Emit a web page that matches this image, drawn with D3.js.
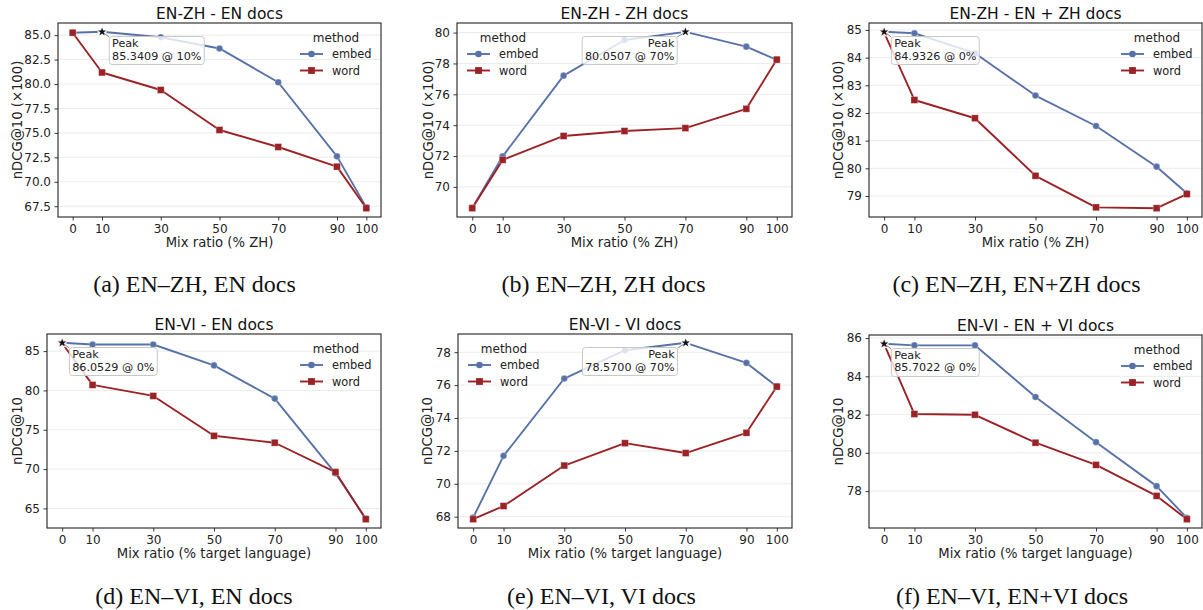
<!DOCTYPE html>
<html><head><meta charset="utf-8">
<script src="https://cdn.jsdelivr.net/npm/d3@7"></script>
<style>body{margin:0;background:#fff}svg{display:block}</style>
</head><body>
<svg id="chart" width="1203" height="610"></svg>
<script>
// ---------------- DATA ----------------
const mixRatios = [0, 10, 30, 50, 70, 90, 100];
const xTickValues = [0, 10, 30, 50, 70, 90, 100];
const methods = ["embed", "word"];

const panelTitles = ["EN-ZH - EN docs", "EN-ZH - ZH docs", "EN-ZH - EN + ZH docs",
                     "EN-VI - EN docs", "EN-VI - VI docs", "EN-VI - EN + VI docs"];
const panelCaptions = ["(a) EN\u2013ZH, EN docs", "(b) EN\u2013ZH, ZH docs", "(c) EN\u2013ZH, EN+ZH docs",
                       "(d) EN\u2013VI, EN docs", "(e) EN\u2013VI, VI docs", "(f) EN\u2013VI, EN+VI docs"];
const yAxisLabels = ["nDCG@10 (\u00d7100)", "nDCG@10 (\u00d7100)", "nDCG@10 (\u00d7100)",
                     "nDCG@10", "nDCG@10", "nDCG@10"];
const xAxisLabels = ["Mix ratio (% ZH)", "Mix ratio (% ZH)", "Mix ratio (% ZH)",
                     "Mix ratio (% target language)", "Mix ratio (% target language)", "Mix ratio (% target language)"];

const enZhEnEmbed   = [85.25, 85.3409, 84.78, 83.64, 80.18, 72.60, 67.38];
const enZhEnWord    = [85.25, 81.18, 79.39, 75.30, 73.56, 71.55, 67.30];
const enZhZhEmbed   = [68.64, 71.98, 77.21, 79.52, 80.0507, 79.09, 78.23];
const enZhZhWord    = [68.62, 71.75, 73.30, 73.62, 73.81, 75.06, 78.25];
const enZhBothEmbed = [84.9326, 84.88, 84.16, 82.63, 81.53, 80.06, 79.10];
const enZhBothWord  = [84.90, 82.47, 81.81, 79.73, 78.59, 78.56, 79.07];
const enViEnEmbed   = [86.0529, 85.84, 85.84, 83.18, 78.96, 69.46, 63.70];
const enViEnWord    = [86.00, 80.70, 79.30, 74.23, 73.35, 69.62, 63.63];
const enViViEmbed   = [67.95, 71.70, 76.40, 78.12, 78.5700, 77.35, 75.91];
const enViViWord    = [67.85, 68.65, 71.11, 72.47, 71.87, 73.10, 75.91];
const enViBothEmbed = [85.7022, 85.62, 85.62, 82.92, 80.56, 78.26, 76.60];
const enViBothWord  = [85.68, 82.03, 81.99, 80.53, 79.37, 77.75, 76.53];

const yTicksA = [67.5, 70, 72.5, 75, 77.5, 80, 82.5, 85];
const yTicksB = [70, 72, 74, 76, 78, 80];
const yTicksC = [79, 80, 81, 82, 83, 84, 85];
const yTicksD = [65, 70, 75, 80, 85];
const yTicksE = [68, 70, 72, 74, 76, 78];
const yTicksF = [78, 80, 82, 84, 86];

const panelSeries = [
  [enZhEnEmbed, enZhEnWord], [enZhZhEmbed, enZhZhWord], [enZhBothEmbed, enZhBothWord],
  [enViEnEmbed, enViEnWord], [enViViEmbed, enViViWord], [enViBothEmbed, enViBothWord]
];
const panelYTicks = [yTicksA, yTicksB, yTicksC, yTicksD, yTicksE, yTicksF];
const panelYFormat = [".1f", "d", "d", "d", "d", "d"];

// ---------------- LAYOUT / STYLE ----------------
const layout = [
  {x0: 58,  x1: 381,  y0: 23,  y1: 217, ylx: 22,  legend: "right", capX: 194.5,  capY: 292},
  {x0: 457, x1: 792,  y0: 23,  y1: 217, ylx: 433, legend: "left",  capX: 603.5,  capY: 292},
  {x0: 869, x1: 1202, y0: 23,  y1: 217, ylx: 843, legend: "right", capX: 1016.5, capY: 292},
  {x0: 47,  x1: 381,  y0: 334, y1: 528, ylx: 22,  legend: "right", capX: 194,    capY: 604},
  {x0: 458, x1: 792,  y0: 334, y1: 528, ylx: 432, legend: "left",  capX: 601.5,  capY: 604},
  {x0: 869, x1: 1202, y0: 335, y1: 528, ylx: 843, legend: "right", capX: 1012,   capY: 604}
];
const colors = {embed: "#5872a8", word: "#9b2226"};
const FONT = "DejaVu Sans, sans-serif";
const ink = "#222";

const svg = d3.select("#chart");

panelSeries.forEach((series, pi) => {
  const L = layout[pi];
  const g = svg.append("g");
  const all = series.flat();
  const lo = d3.min(all), hi = d3.max(all), pad = (hi - lo) * 0.05;
  const x = d3.scaleLinear().domain([-5, 105]).range([L.x0, L.x1]);
  const y = d3.scaleLinear().domain([lo - pad, hi + pad]).range([L.y1, L.y0]);
  const yfmt = d3.format(panelYFormat[pi]);

  // grid
  g.append("g").selectAll("line").data(panelYTicks[pi]).join("line")
    .attr("x1", L.x0).attr("x2", L.x1)
    .attr("y1", d => y(d)).attr("y2", d => y(d))
    .attr("stroke", "#ebebeb").attr("stroke-width", 1);

  // axes via d3
  const xAxis = d3.axisBottom(x).tickValues(xTickValues).tickSize(3.5).tickPadding(3.5).tickFormat(d3.format("d"));
  const yAxis = d3.axisLeft(y).tickValues(panelYTicks[pi]).tickSize(3.5).tickPadding(3.5).tickFormat(yfmt);
  const gx = g.append("g").attr("transform", `translate(0,${L.y1})`).call(xAxis);
  const gy = g.append("g").attr("transform", `translate(${L.x0},0)`).call(yAxis);
  [gx, gy].forEach(a => {
    a.select(".domain").remove();
    a.selectAll("line").attr("stroke", ink).attr("stroke-width", 0.9);
    a.selectAll("text").attr("fill", ink).style("font-family", FONT).style("font-size", "12px");
  });

  // lines + markers
  const line = d3.line().x((d, i) => x(mixRatios[i])).y(d => y(d));
  series.forEach((vals, si) => {
    const m = methods[si];
    g.append("path").datum(vals).attr("d", line)
      .attr("fill", "none").attr("stroke", colors[m]).attr("stroke-width", 1.9)
      .attr("stroke-linejoin", "round");
    const mk = g.append("g");
    if (m === "embed") {
      mk.selectAll("circle").data(vals).join("circle")
        .attr("cx", (d, i) => x(mixRatios[i])).attr("cy", d => y(d)).attr("r", 3.3)
        .attr("fill", colors[m]).attr("stroke", "rgba(255,255,255,0.35)").attr("stroke-width", 0.8);
    } else {
      mk.selectAll("rect").data(vals).join("rect")
        .attr("x", (d, i) => x(mixRatios[i]) - 3.4).attr("y", d => y(d) - 3.4)
        .attr("width", 6.8).attr("height", 6.8)
        .attr("fill", colors[m]).attr("stroke", "rgba(255,255,255,0.35)").attr("stroke-width", 0.8);
    }
  });

  // peak annotation
  const emb = series[0];
  const pk = d3.maxIndex(emb);
  const px = x(mixRatios[pk]), py = y(emb[pk]);
  g.append("rect").attr("x", px - 4.5).attr("y", py - 4.5).attr("width", 9).attr("height", 9)
    .attr("fill", "#fff").attr("opacity", 0.85);
  g.append("path").attr("d", d3.symbol(d3.symbolStar, 22)())
    .attr("transform", `translate(${px},${py})`).attr("fill", "#111");

  const leftAligned = mixRatios[pk] <= 50;
  const tx = leftAligned ? px + 10 : px - 11;
  const anchor = leftAligned ? "start" : "end";
  const ann = g.append("g");
  const boxRect = ann.append("rect");
  const t1 = ann.append("text").attr("x", tx).attr("y", py + 15).attr("text-anchor", anchor)
    .style("font-family", FONT).style("font-size", "11.2px").attr("fill", ink).text("Peak");
  const t2 = ann.append("text").attr("x", tx).attr("y", py + 27.7).attr("text-anchor", anchor)
    .style("font-family", FONT).style("font-size", "11.2px").attr("fill", ink)
    .text(`${d3.format(".4f")(emb[pk])} @ ${mixRatios[pk]}%`);
  const w = Math.max(t1.node().getComputedTextLength(), t2.node().getComputedTextLength());
  const bx = leftAligned ? tx - 2.8 : tx - w - 2.8;
  const by = py + 4.7, bw = w + 5.6, bh = 28;
  boxRect.attr("x", bx).attr("y", by).attr("width", bw).attr("height", bh).attr("rx", 3)
    .attr("fill", "#fff").attr("fill-opacity", 0.8).attr("stroke", "#c8c8c8").attr("stroke-width", 1);
  const cx = leftAligned ? bx : bx + bw;
  g.append("line").attr("x1", px + (leftAligned ? 2 : -2)).attr("y1", py + 1.5)
    .attr("x2", cx).attr("y2", by + 0.5).attr("stroke", "#666").attr("stroke-width", 0.8);

  // frame
  g.append("rect").attr("x", L.x0).attr("y", L.y0).attr("width", L.x1 - L.x0).attr("height", L.y1 - L.y0)
    .attr("fill", "none").attr("stroke", ink).attr("stroke-width", 1.1);

  // title & labels
  g.append("text").attr("x", (L.x0 + L.x1) / 2).attr("y", L.y0 - 4).attr("text-anchor", "middle")
    .style("font-family", FONT).style("font-size", "15.5px").attr("fill", "#111").text(panelTitles[pi]);
  g.append("text").attr("x", (L.x0 + L.x1) / 2).attr("y", L.y1 + (pi < 3 ? 30 : 29.5)).attr("text-anchor", "middle")
    .style("font-family", FONT).style("font-size", "13.2px").attr("fill", ink).text(xAxisLabels[pi]);
  g.append("text").attr("transform", `translate(${L.ylx},${(L.y0 + L.y1) / 2}) rotate(-90)`)
    .attr("text-anchor", "middle")
    .style("font-family", FONT).style("font-size", "13.2px").attr("fill", ink).text(yAxisLabels[pi]);

  // legend
  const textX = L.legend === "right" ? L.x1 - 49 : L.x0 + 42;
  const lg = g.append("g");
  lg.append("text").attr("x", textX + 4).attr("y", L.y0 + 19).attr("text-anchor", "middle")
    .style("font-family", FONT).style("font-size", "12px").attr("fill", ink).text("method");
  methods.forEach((m, i) => {
    const yy = L.y0 + 31 + i * 16.5;
    lg.append("line").attr("x1", textX - 32).attr("x2", textX - 9).attr("y1", yy).attr("y2", yy)
      .attr("stroke", colors[m]).attr("stroke-width", 1.9);
    if (m === "embed") {
      lg.append("circle").attr("cx", textX - 20.5).attr("cy", yy).attr("r", 3.3).attr("fill", colors[m]);
    } else {
      lg.append("rect").attr("x", textX - 23.9).attr("y", yy - 3.4).attr("width", 6.8).attr("height", 6.8).attr("fill", colors[m]);
    }
    lg.append("text").attr("x", textX).attr("y", yy + 4).style("font-family", FONT).style("font-size", "11.4px")
      .attr("fill", ink).text(m);
  });

  // caption
  svg.append("text").attr("x", L.capX).attr("y", L.capY).attr("text-anchor", "middle")
    .style("font-family", "Liberation Serif, Times New Roman, serif").style("font-size", "24px")
    .attr("fill", "#111").text(panelCaptions[pi]);
});
</script>
</body></html>
